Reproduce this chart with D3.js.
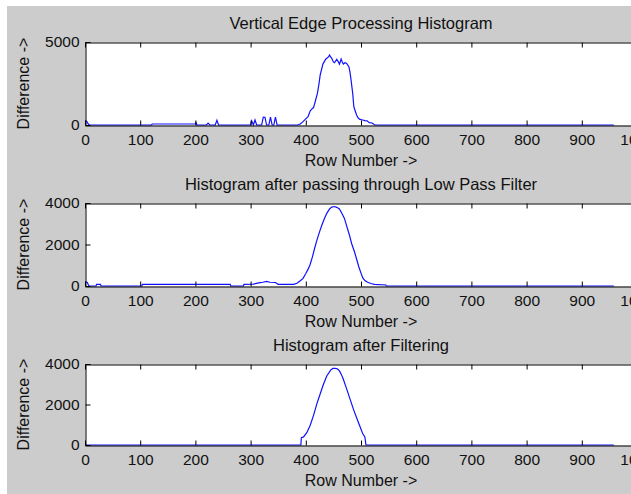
<!DOCTYPE html>
<html>
<head>
<meta charset="utf-8">
<script src="https://cdn.jsdelivr.net/npm/d3@7"></script>
<style>
  html, body { margin: 0; padding: 0; background: #fff; }
  svg { display: block; font-family: "Liberation Sans", Arial, sans-serif; }
</style>
</head>
<body>
<svg id="chart"></svg>
<script>
// x axis (row number) ticks
const xTicks = [0, 100, 200, 300, 400, 500, 600, 700, 800, 900, 1000];

// panel 1: raw vertical edge histogram
const edgeTitle = 'Vertical Edge Processing Histogram';
const edgeYTicks = [0, 5000];
const edgeRows = [0, 3, 6, 8, 120, 122, 200, 201, 203, 220, 223, 226, 236, 239, 242, 300, 302, 305, 308, 311,
  320, 323, 326, 329, 333, 336, 339, 342, 345, 348, 385, 390, 395, 399, 404, 408, 412, 414, 417, 421,
  424, 426, 431, 436, 441, 443, 445, 447, 450, 452, 456, 459, 461, 464, 466, 468, 471, 474, 478, 480,
  482, 485, 487, 490, 492, 495, 498, 503, 507, 511, 515, 520, 525, 958];
const edgeVals = [250, 220, 60, 0, 0, 60, 60, 150, 0, 0, 110, 0, 0, 280, 0, 0, 250, 0, 300, 0,
  0, 480, 470, 0, 0, 480, 0, 0, 470, 0, 0, 60, 200, 340, 500, 860, 1000, 1050, 1400, 1900,
  2500, 3000, 3670, 3960, 4100, 4220, 4100, 4020, 3800, 3750, 3960, 3800, 3670, 3970, 3800, 3670, 3750, 3710, 3510, 3200,
  2710, 1900, 1100, 800, 600, 420, 340, 300, 260, 250, 140, 120, 0, 0];

// panel 2: after low pass filter
const lpfTitle = 'Histogram after passing through Low Pass Filter';
const lpfYTicks = [0, 2000, 4000];
const lpfRows = [0, 4, 7, 20, 21, 28, 29, 103, 104, 263, 264, 287, 288, 305, 315, 322, 329, 335, 345, 350,
  378, 384, 390, 395, 400, 404, 408, 412, 416, 420, 425, 430, 434, 438, 443, 447, 452, 456, 461, 465,
  470, 474, 479, 483, 488, 492, 496, 500, 503, 507, 512, 518, 524, 545, 546, 958];
const lpfVals = [200, 180, 0, 0, 80, 80, 0, 0, 80, 80, 0, 0, 80, 90, 150, 180, 220, 180, 170, 80,
  80, 130, 250, 370, 600, 800, 1050, 1400, 1820, 2200, 2620, 3000, 3260, 3500, 3710, 3800, 3830, 3790, 3710, 3520,
  3260, 2900, 2460, 2050, 1660, 1300, 930, 620, 400, 260, 180, 120, 80, 50, 0, 0];

// panel 3: after filtering
const filtTitle = 'Histogram after Filtering';
const filtYTicks = [0, 2000, 4000];
const filtRows = [0, 391, 392, 396, 402, 408, 414, 420, 426, 432, 438, 445, 449, 453, 457, 461, 465, 468, 474, 480,
  487, 495, 503, 507, 509, 958];
const filtVals = [0, 0, 360, 400, 620, 980, 1460, 2030, 2520, 3000, 3410, 3700, 3780, 3790, 3760, 3660, 3450, 3250, 2770, 2280,
  1710, 1140, 570, 400, 0, 0];

const xLabel = 'Row Number ->';
const yLabel = 'Difference ->';

const W = 631, H = 494;
const plotLeft = 85, plotRight = 637;

const panels = [
  {title: edgeTitle, rows: edgeRows, vals: edgeVals, yTicks: edgeYTicks, top: 42, bottom: 125},
  {title: lpfTitle, rows: lpfRows, vals: lpfVals, yTicks: lpfYTicks, top: 203, bottom: 286},
  {title: filtTitle, rows: filtRows, vals: filtVals, yTicks: filtYTicks, top: 364, bottom: 445}
];

const svg = d3.select('#chart').attr('width', W).attr('height', H);

// figure background (matlab grey)
svg.append('rect').attr('x', 7).attr('y', 6).attr('width', W - 7).attr('height', H - 6).attr('fill', '#cccccc');

const x = d3.scaleLinear().domain([0, 1000]).range([plotLeft, plotRight]);
const fmt = d3.format('d');

panels.forEach(p => {
  const y = d3.scaleLinear().domain([0, d3.max(p.yTicks)]).range([p.bottom, p.top]);
  const g = svg.append('g');

  g.append('rect') // plot area
    .attr('x', plotLeft + 0.5).attr('y', p.top + 0.5)
    .attr('width', plotRight - plotLeft).attr('height', p.bottom - p.top)
    .attr('fill', '#fff');

  const pts = p.rows.map((r, i) => [r, p.vals[i]]);
  g.append('path')
    .datum(pts)
    .attr('fill', 'none')
    .attr('stroke', '#1010ff')
    .attr('stroke-width', 1.2)
    .attr('d', d3.line().x(d => x(d[0])).y(d => y(d[1])));

  // bottom / top axes with inward ticks
  g.append('g')
    .attr('transform', 'translate(0,' + (p.bottom + 0.5) + ')')
    .call(d3.axisBottom(x).tickValues(xTicks).tickFormat(fmt).tickSize(-5).tickPadding(8).tickSizeOuter(0))
    .call(a => a.select('.domain').attr('stroke', '#000'))
    .call(a => a.selectAll('.tick line').attr('stroke', '#000'))
    .call(a => a.selectAll('text').attr('font-size', '15.5px').attr('fill', '#111').attr('font-family', null));

  g.append('g')
    .attr('transform', 'translate(0,' + (p.top + 0.5) + ')')
    .call(d3.axisTop(x).tickValues(xTicks).tickSize(-5).tickFormat('').tickSizeOuter(0))
    .call(a => a.select('.domain').attr('stroke', '#000'))
    .call(a => a.selectAll('.tick line').attr('stroke', '#000'));

  g.append('g')
    .attr('transform', 'translate(' + (plotLeft + 0.5) + ',0)')
    .call(d3.axisLeft(y).tickValues(p.yTicks).tickFormat(fmt).tickSize(-5).tickPadding(6).tickSizeOuter(0))
    .call(a => a.select('.domain').attr('stroke', '#000'))
    .call(a => a.selectAll('.tick line').attr('stroke', '#000'))
    .call(a => a.selectAll('text').attr('font-size', '15.5px').attr('fill', '#111').attr('font-family', null));

  g.append('g')
    .attr('transform', 'translate(' + (plotRight + 0.5) + ',0)')
    .call(d3.axisRight(y).tickValues(p.yTicks).tickSize(-5).tickFormat('').tickSizeOuter(0))
    .call(a => a.select('.domain').attr('stroke', '#000'))
    .call(a => a.selectAll('.tick line').attr('stroke', '#000'));

  g.append('text') // title
    .attr('x', (plotLeft + plotRight) / 2)
    .attr('y', p.top - 13)
    .attr('text-anchor', 'middle')
    .attr('font-size', '16.5px')
    .attr('fill', '#111')
    .text(p.title);

  g.append('text') // x label
    .attr('x', (plotLeft + plotRight) / 2)
    .attr('y', p.bottom + 40.5)
    .attr('text-anchor', 'middle')
    .attr('font-size', '16px')
    .attr('fill', '#111')
    .text(xLabel);

  g.append('text') // y label
    .attr('transform', 'translate(29,' + (p.top + p.bottom) / 2 + ') rotate(-90)')
    .attr('text-anchor', 'middle')
    .attr('font-size', '16px')
    .attr('fill', '#111')
    .text(yLabel);
});
</script>
</body>
</html>
